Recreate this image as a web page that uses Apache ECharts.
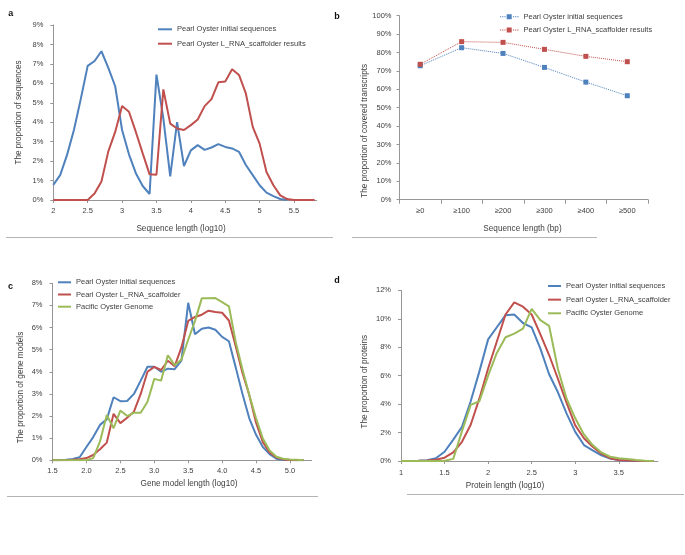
<!DOCTYPE html>
<html><head><meta charset="utf-8">
<script src="https://cdn.jsdelivr.net/npm/echarts@6/dist/echarts.min.js"></script>
<style>html,body{margin:0;padding:0;background:#fff}#c{width:685px;height:555px}</style>
</head><body><div id="c"></div>
<script>
// ---- data ----
const nameBlue = 'Pearl Oyster initial sequences';
const nameRedAB = 'Pearl Oyster L_RNA_scaffolder results';
const nameRedCD = 'Pearl Oyster L_RNA_scaffolder';
const nameGreen = 'Pacific Oyster Genome';

// panel a
const xA = [2.0,2.1,2.2,2.3,2.4,2.5,2.6,2.7,2.8,2.9,3.0,3.1,3.2,3.3,3.4,3.5,3.6,3.7,3.8,3.9,4.0,4.1,4.2,4.3,4.4,4.5,4.6,4.7,4.8,4.9,5.0,5.1,5.2,5.3,5.4,5.5,5.6,5.7,5.8];
const blueA = [0.78,1.28,2.32,3.6,5.2,6.9,7.15,7.65,6.8,5.85,3.6,2.35,1.38,0.72,0.31,6.45,4.2,1.22,4.0,1.75,2.55,2.82,2.58,2.7,2.87,2.73,2.65,2.48,1.8,1.28,0.76,0.38,0.2,0.05,0];
const redA = [0,0,0,0,0,0,0.33,0.95,2.5,3.5,4.83,4.54,3.5,2.4,1.32,1.3,5.69,3.93,3.68,3.6,3.85,4.14,4.83,5.19,6.05,6.1,6.72,6.43,5.48,3.76,2.9,1.44,0.76,0.24,0.05,0,0,0,0];

// panel b
const catB = ['≥0','≥100','≥200','≥300','≥400','≥500'];
const blueB = [72.8,82.6,79.5,71.9,63.9,56.5];
const redB = [73.6,85.9,85.5,81.7,77.9,75.0];

// panel c
const xC = [1.5,1.6,1.7,1.8,1.9,2.0,2.1,2.2,2.3,2.4,2.5,2.6,2.7,2.8,2.9,3.0,3.1,3.2,3.3,3.4,3.5,3.6,3.7,3.8,3.9,4.0,4.1,4.2,4.3,4.4,4.5,4.6,4.7,4.8,4.9,5.0,5.1,5.2];
const blueC = [0,0,0.02,0.06,0.14,0.6,1.05,1.6,1.85,2.85,2.67,2.68,3.0,3.6,4.23,4.23,4.0,4.14,4.12,4.5,7.12,5.7,5.95,6.0,5.9,5.58,5.38,4.2,3.0,1.9,1.15,0.6,0.28,0.07,0.01,0,0,0];
const redC = [0,0,0,0.02,0.05,0.1,0.24,0.5,0.8,2.1,1.68,1.92,2.2,3.0,4.0,4.22,4.08,4.5,4.25,5.1,6.3,6.48,6.58,6.76,6.7,6.67,6.32,5.15,3.95,2.95,1.7,0.82,0.36,0.13,0.04,0.01,0,0];
const greenC = [0,0,0,0,0,0,0.1,0.85,2.05,1.45,2.25,2.0,2.15,2.15,2.65,3.68,3.6,4.75,4.3,4.55,5.45,6.3,7.32,7.32,7.33,7.15,6.96,5.35,4.1,2.95,1.9,0.98,0.44,0.16,0.07,0.04,0.02,0];

// panel d
const xD = [1.0,1.1,1.2,1.3,1.4,1.5,1.6,1.7,1.8,1.9,2.0,2.1,2.2,2.3,2.4,2.5,2.6,2.7,2.8,2.9,3.0,3.1,3.2,3.3,3.4,3.5,3.6,3.7,3.8,3.9];
const blueD = [0,0,0.02,0.06,0.19,0.65,1.5,2.4,4.2,6.3,8.55,9.4,10.25,10.3,9.7,9.4,7.9,6.1,4.85,3.35,2.05,1.12,0.75,0.4,0.18,0.06,0.02,0,0,0];
const redD = [0,0,0.01,0.03,0.09,0.23,0.6,1.35,2.55,4.4,6.5,8.4,10.3,11.15,10.85,10.3,8.9,7.45,5.8,4.1,2.5,1.6,1.0,0.52,0.2,0.07,0.03,0.01,0,0];
const greenD = [0,0,0,0,0,0.02,0.15,2.1,3.95,4.2,6.0,7.6,8.7,8.95,9.3,10.7,9.9,9.5,6.5,4.4,3.0,1.87,1.12,0.6,0.3,0.19,0.14,0.07,0.02,0];

// ---- styling ----
const BLUE = '#4F81BD', RED = '#C0504D', GREEN = '#9BBB59';
const FONT = 'Liberation Sans, Arial, sans-serif';
const TXT = '#404040';
const AX = '#969696';

function pairs(xs, ys) { return ys.map((v, i) => [xs[i], v]); }

function valX(idx, min, max, fmt, margin) {
  return {
    type: 'value', gridIndex: idx, min: min, max: max, interval: 0.5,
    axisLine: {show: true, lineStyle: {color: AX, width: 1}},
    axisTick: {show: true, length: 3, lineStyle: {color: AX}},
    splitLine: {show: false},
    axisLabel: {fontSize: 7.5, color: TXT, fontFamily: FONT, margin: margin, showMaxLabel: false, formatter: fmt}
  };
}
function valY(idx, max, interval, margin) {
  return {
    type: 'value', gridIndex: idx, min: 0, max: max, interval: interval,
    axisLine: {show: true, lineStyle: {color: AX, width: 1}},
    axisTick: {show: true, length: 3, lineStyle: {color: AX}},
    splitLine: {show: false},
    axisLabel: {fontSize: 7.5, color: TXT, fontFamily: FONT, margin: margin, formatter: v => v + '%'}
  };
}
function lineSeries(name, idx, data, color) {
  return {
    type: 'line', name: name, xAxisIndex: idx, yAxisIndex: idx, data: data,
    symbol: 'none', lineStyle: {color: color, width: 2}, itemStyle: {color: color}, z: 3
  };
}
function legendBox(left, top, gap, itemW, names) {
  return {
    orient: 'vertical', left: left, top: top, padding: 0, itemGap: gap,
    itemWidth: itemW, itemHeight: 2, selectedMode: false,
    textStyle: {fontSize: 7.5, color: TXT, fontFamily: FONT, lineHeight: 10},
    data: names.map(n => ({name: n, icon: 'rect'}))
  };
}
function txt(x, y, s, opts) {
  return Object.assign({
    type: 'text', x: x, y: y,
    style: {text: s, fontSize: 8.2, fontFamily: FONT, fill: TXT, align: 'center', verticalAlign: 'middle'}
  }, opts || {});
}
function rtxt(x, y, s) {
  return {type: 'text', x: x, y: y, rotation: Math.PI / 2,
    style: {text: s, fontSize: 8.2, fontFamily: FONT, fill: TXT, align: 'center', verticalAlign: 'middle'}};
}
function letter(x, y, s) {
  return {type: 'text', x: x, y: y,
    style: {text: s, fontSize: 9, fontWeight: 'bold', fontFamily: FONT, fill: '#111', align: 'center', verticalAlign: 'middle'}};
}
function sep(x1, x2, y) {
  return {type: 'line', shape: {x1: x1, y1: y, x2: x2, y2: y}, style: {stroke: '#b4b4b4', lineWidth: 1}};
}

const bIcon = 'path://M0,2h1.2v1h-1.2z M2.2,2h1.2v1h-1.2z M4.4,2h1.2v1h-1.2z M6.7,0h5v5h-5z M12.9,2h1.2v1h-1.2z M15.1,2h1.2v1h-1.2z M17.3,2h1.2v1h-1.2z';

const option = {
  animation: false,
  backgroundColor: '#fff',
  textStyle: {fontFamily: FONT},
  grid: [
    {left: 53.3, top: 25, width: 263.4, height: 175},
    {left: 399.5, top: 15.7, width: 248.5, height: 184},
    {left: 52.5, top: 283.3, width: 259.2, height: 177},
    {left: 401, top: 290.3, width: 257, height: 170.7}
  ],
  xAxis: [
    valX(0, 2, 5.83, v => String(v), 7),
    {
      type: 'category', gridIndex: 1, data: catB, boundaryGap: true,
      axisLine: {show: true, lineStyle: {color: AX, width: 1}},
      axisTick: {show: true, length: 4, lineStyle: {color: AX}},
      axisLabel: {fontSize: 7.5, color: TXT, fontFamily: FONT, margin: 7}
    },
    valX(2, 1.5, 5.32, v => v.toFixed(1), 7),
    valX(3, 1, 3.95, v => String(v), 8)
  ],
  yAxis: [
    valY(0, 9, 1, 10),
    valY(1, 100, 10, 8),
    valY(2, 8, 1, 10),
    valY(3, 12, 2, 10)
  ],
  legend: [
    legendBox(158, 24.3, 4.4, 14, [nameBlue, nameRedAB]),
    {
      orient: 'vertical', left: 500, top: 11.7, padding: 0, itemGap: 3.3,
      itemWidth: 18.5, itemHeight: 5, selectedMode: false,
      textStyle: {fontSize: 7.5, color: TXT, fontFamily: FONT, lineHeight: 10},
      data: [
        {name: nameBlue, icon: bIcon, itemStyle: {color: BLUE}},
        {name: nameRedAB, icon: bIcon, itemStyle: {color: RED}}
      ]
    },
    legendBox(58, 277.3, 2.2, 13, [nameBlue, nameRedCD, nameGreen]),
    legendBox(548, 281, 3.65, 13, [nameBlue, nameRedCD, nameGreen])
  ],
  series: [
    lineSeries(nameBlue, 0, pairs(xA, blueA), BLUE),
    lineSeries(nameRedAB, 0, pairs(xA, redA), RED),
    lineSeries(nameBlue, 2, pairs(xC, blueC), BLUE),
    lineSeries(nameRedCD, 2, pairs(xC, redC), RED),
    lineSeries(nameGreen, 2, pairs(xC, greenC), GREEN),
    lineSeries(nameBlue, 3, pairs(xD, blueD), BLUE),
    lineSeries(nameRedCD, 3, pairs(xD, redD), RED),
    lineSeries(nameGreen, 3, pairs(xD, greenD), GREEN),
    {
      type: 'line', name: nameBlue, xAxisIndex: 1, yAxisIndex: 1, data: blueB,
      symbol: 'rect', symbolSize: 5, showSymbol: true,
      lineStyle: {color: BLUE, width: 1, type: 'dotted'}, itemStyle: {color: BLUE}
    },
    {
      type: 'line', name: nameRedAB, xAxisIndex: 1, yAxisIndex: 1, data: redB,
      symbol: 'rect', symbolSize: 5, showSymbol: true,
      lineStyle: {color: RED, width: 1, type: 'dotted'}, itemStyle: {color: RED}
    }
  ],
  graphic: [
    letter(10.8, 13.3, 'a'),
    letter(337, 16.7, 'b'),
    letter(10.5, 287, 'c'),
    letter(337, 281, 'd'),
    rtxt(18.3, 112.5, 'The proportion of sequences'),
    txt(181, 228.3, 'Sequence length (log10)'),
    rtxt(364.3, 130.8, 'The proportion of covered transcripts'),
    txt(522.5, 228.3, 'Sequence length (bp)'),
    rtxt(21, 387.5, 'The proportion of gene models'),
    txt(189, 483.3, 'Gene model length (log10)'),
    rtxt(365, 381.7, 'The proportion of proteins'),
    txt(505, 486, 'Protein length (log10)'),
    sep(6, 333, 237.5),
    sep(352, 597, 237.5),
    sep(7, 318, 496.5),
    sep(407, 684, 494.5)
  ]
};

const chart = echarts.init(document.getElementById('c'), null, {renderer: 'canvas'});
chart.setOption(option);
</script>
</body></html>
